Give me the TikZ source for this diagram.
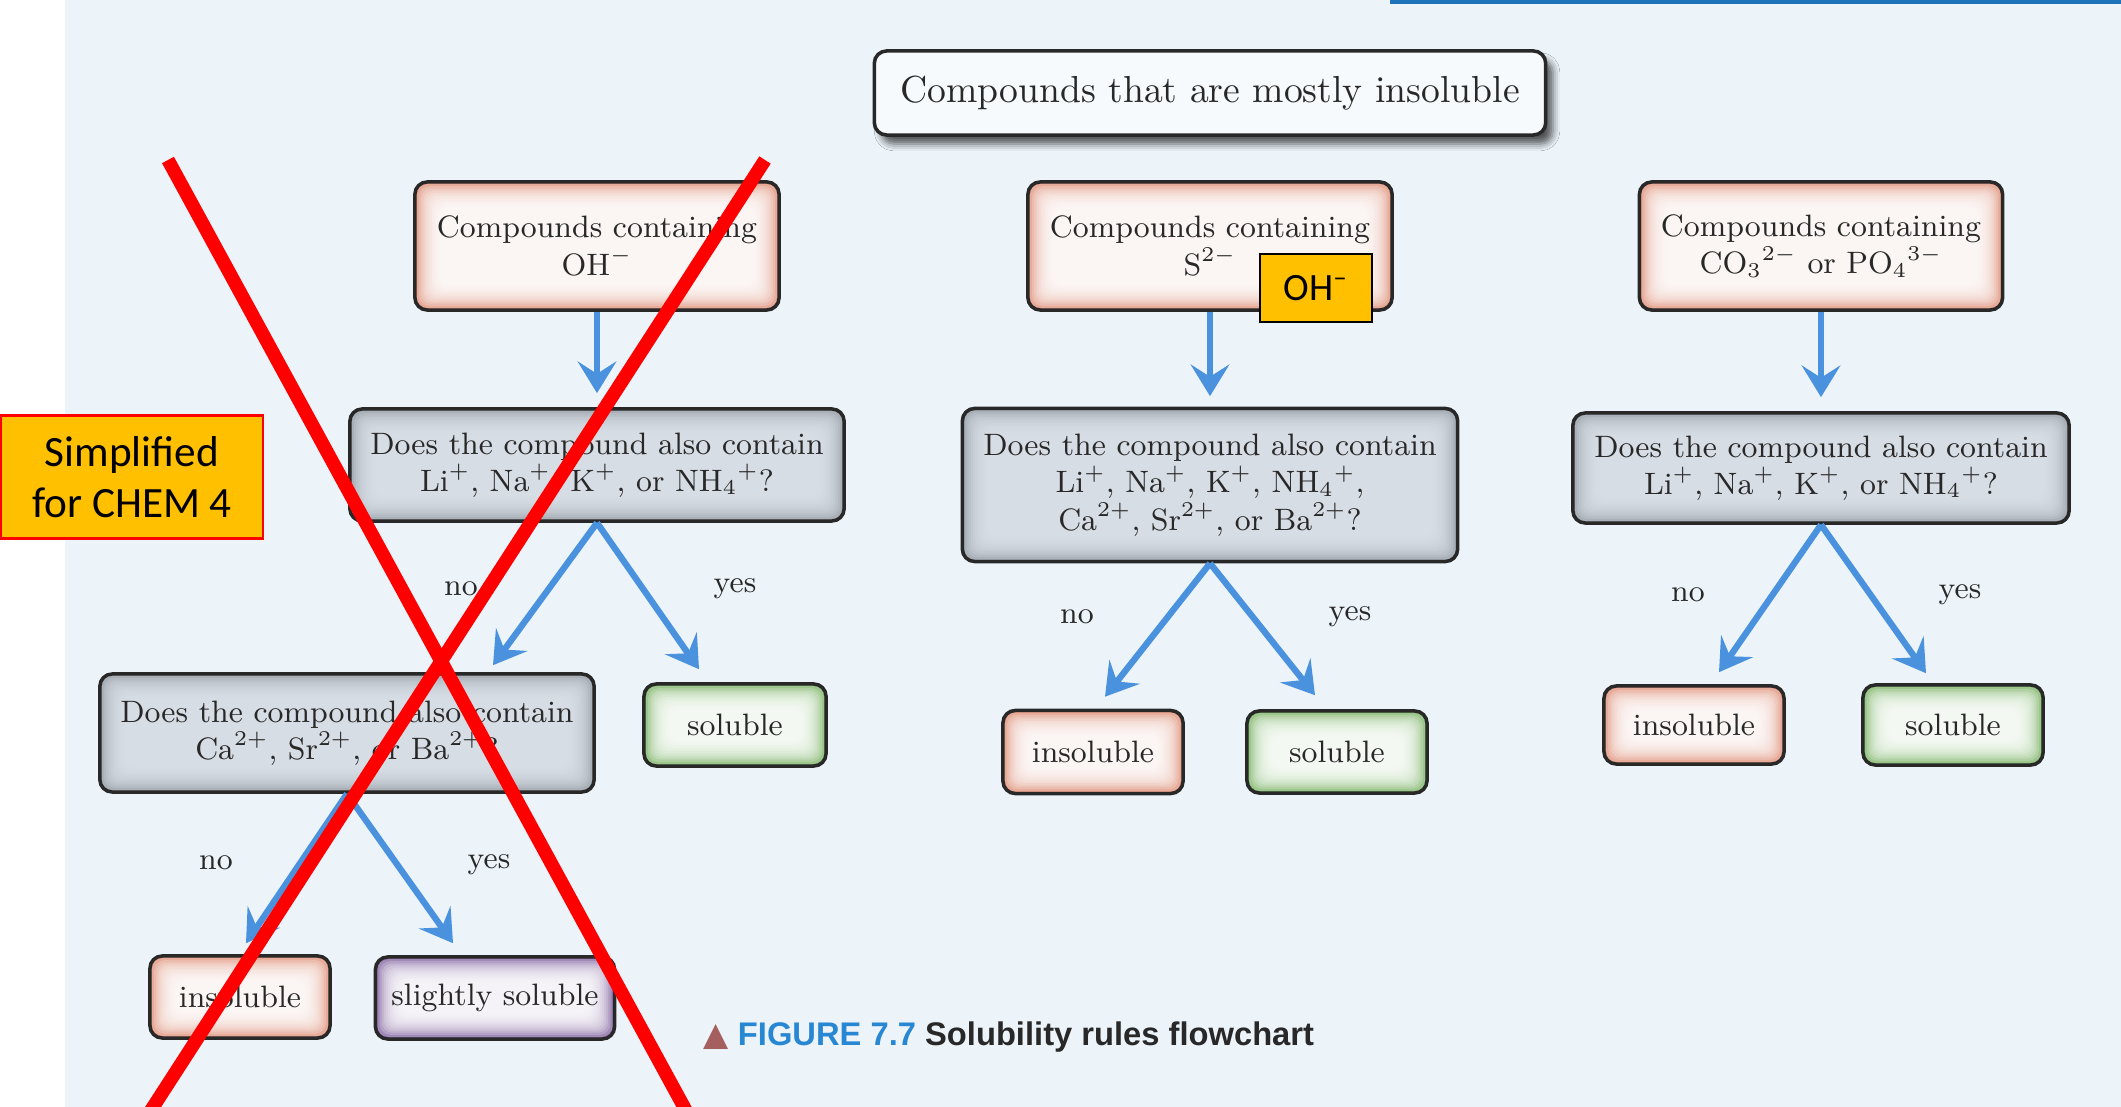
\documentclass[tikz,border=0pt]{standalone}
\usepackage{fontspec}
\newfontfamily\calibri{Carlito}
\newfontfamily\capsans{Liberation Sans}
\newfontfamily\symbfont{DejaVu Sans}
\usetikzlibrary{arrows.meta,shadows.blur}

\definecolor{page}{RGB}{236,244,250}
\definecolor{titlefill}{RGB}{247,250,252}
\definecolor{arrowblue}{RGB}{74,146,222}
\definecolor{frame}{RGB}{40,40,40}
\definecolor{pinkedge}{RGB}{226,150,128}
\definecolor{greenedge}{RGB}{132,184,110}
\definecolor{violetedge}{RGB}{138,108,165}
\definecolor{greyedge}{RGB}{158,164,171}
\definecolor{greycore}{RGB}{222,228,234}
\definecolor{sticky}{RGB}{255,192,0}
\definecolor{crossred}{RGB}{255,0,0}
\definecolor{figblue}{RGB}{40,135,210}
\definecolor{figgrey}{RGB}{40,40,40}
\definecolor{figtri}{RGB}{165,95,95}
\definecolor{topline}{RGB}{30,115,185}

\begin{document}
\begin{tikzpicture}[x=0.01cm, y=-0.01cm, >={Stealth[length=9pt,width=11pt,inset=3.5pt]},
  every node/.style={font=\fontsize{8.8}{10.6}\selectfont, text=figgrey},
  dims/.style 2 args={minimum width=#1cm, minimum height=#2cm},
  glow/.style 2 args={fill=#1, path picture={
    \foreach \k in {1,...,12}
      \fill[#2, opacity=0.2, rounded corners=3pt]
        ([shift={(\k*0.6pt,\k*0.6pt)}]path picture bounding box.south west) rectangle
        ([shift={(-\k*0.6pt,-\k*0.6pt)}]path picture bounding box.north east);}},
  box/.style={draw=frame, line width=1pt, rounded corners=3.5pt, inner sep=0pt, align=center},
  pink box/.style={box, glow={pinkedge}{white}},
  green box/.style={box, glow={greenedge}{white}},
  violet box/.style={box, glow={violetedge}{white}},
  grey box/.style={box, glow={greyedge}{greycore}},
  flow/.style={->, color=arrowblue, line width=1.8pt},
  sticker/.style={fill=sticky, line width=0.6pt, inner sep=0pt, align=center, text=black}]

	% page
	\useasboundingbox (0,0) rectangle (2121,1107);
	\fill[white] (0,0) rectangle (2121,1107);
	\fill[page] (65,0) rectangle (2121,1107);
	\draw[topline, line width=1pt] (1390,2) -- (2121,2);

	\node[box, fill=titlefill, dims={6.71}{0.84}, font=\fontsize{10.7}{12}\selectfont,
	  blur shadow={shadow xshift=2pt, shadow yshift=-2.5pt, shadow blur radius=2pt, shadow opacity=65}]
	  (title) at (1210,93) {Compounds that are mostly insoluble};

	% OH- branch
	\node[pink box, dims={3.64}{1.28}] (OH) at (597,246) {Compounds containing\\OH$^-$};
	\node[grey box, dims={4.94}{1.12}] (OHq) at (597,465) {Does the compound also contain\\Li$^+$, Na$^+$, K$^+$, or NH$_4{}^+$?};
	\node[grey box, dims={4.94}{1.18}] (CaQ) at (347,733) {Does the compound also contain\\Ca$^{2+}$, Sr$^{2+}$, or Ba$^{2+}$?};
	\node[green box, dims={1.82}{0.82}] (OHsol) at (735,725) {soluble};
	\node[pink box, dims={1.80}{0.82}] (CaIns) at (240,997) {insoluble};
	\node[violet box, dims={2.39}{0.82}] (CaSlight) at (495,998) {slightly soluble};

	% S2- branch
	\node[pink box, dims={3.64}{1.28}] (S) at (1210,246) {Compounds containing\\S$^{2-}$};
	\node[grey box, dims={4.95}{1.53}] (Sq) at (1210,485) {Does the compound also contain\\Li$^+$, Na$^+$, K$^+$, NH$_4{}^+$,\\Ca$^{2+}$, Sr$^{2+}$, or Ba$^{2+}$?};
	\node[pink box, dims={1.80}{0.83}] (SIns) at (1093,752) {insoluble};
	\node[green box, dims={1.80}{0.82}] (SSol) at (1337,752) {soluble};

	% CO3 2- / PO4 3- branch
	\node[pink box, dims={3.63}{1.28}] (CO) at (1821,246) {Compounds containing\\CO$_3{}^{2-}$ or PO$_4{}^{3-}$};
	\node[grey box, dims={4.96}{1.10}] (COq) at (1821,468) {Does the compound also contain\\Li$^+$, Na$^+$, K$^+$, or NH$_4{}^+$?};
	\node[pink box, dims={1.80}{0.78}] (COIns) at (1694,725) {insoluble};
	\node[green box, dims={1.80}{0.80}] (COSol) at (1953,725) {soluble};

	\path[flow]
		(OH) edge[shorten >=4pt] (OHq)
		(OHq.south) edge ([shift={(146,-7)}]CaQ.north)
		(OHq.south) edge ([shift={(-36,-13)}]OHsol.north)
		(CaQ.south) edge ([shift={(6,-11)}]CaIns.north)
		(CaQ.south) edge ([shift={(-42,-12)}]CaSlight.north)
		(S) edge[shorten >=3pt] (Sq)
		(Sq.south) edge ([shift={(12,-12)}]SIns.north)
		(Sq.south) edge ([shift={(-22,-14)}]SSol.north)
		(CO) edge[shorten >=4pt] (COq)
		(COq.south) edge ([shift={(25,-12)}]COIns.north)
		(COq.south) edge ([shift={(-27,-10)}]COSol.north);

	% yes/no labels
	\node (no1) at (461,589) {no};
	\node (yes1) at (735,589) {yes};
	\node (no2) at (216,863) {no};
	\node (yes2) at (489,865) {yes};
	\node (no3) at (1077,617) {no};
	\node (yes3) at (1350,617) {yes};
	\node (no4) at (1688,595) {no};
	\node (yes4) at (1960,595) {yes};

	% notes on top
	\node[sticker, draw=black, dims={1.12}{0.68}, font=\calibri\fontsize{11}{12}\selectfont]
	  (ohtag) at (1316,288) {OH\textsuperscript{\textendash}};
	\node[sticker, draw=crossred, dims={2.62}{1.23}, font=\calibri\fontsize{12.3}{14.7}\selectfont]
	  (chem) at (132,477) {Simplified\\for CHEM 4};

	% cross over the OH- branch
	\draw[crossred, line width=0.135cm] (168,160) -- (690,1118);
	\draw[crossred, line width=0.135cm] (765,160) -- (146,1118);

	\node[anchor=base west, inner sep=0pt, font=\capsans\bfseries\fontsize{9.3}{11}\selectfont]
	  (caption) at (703,1045) {{\symbfont\color{figtri}▲} {\color{figblue}FIGURE 7.7} Solubility rules flowchart};
\end{tikzpicture}
\end{document}
